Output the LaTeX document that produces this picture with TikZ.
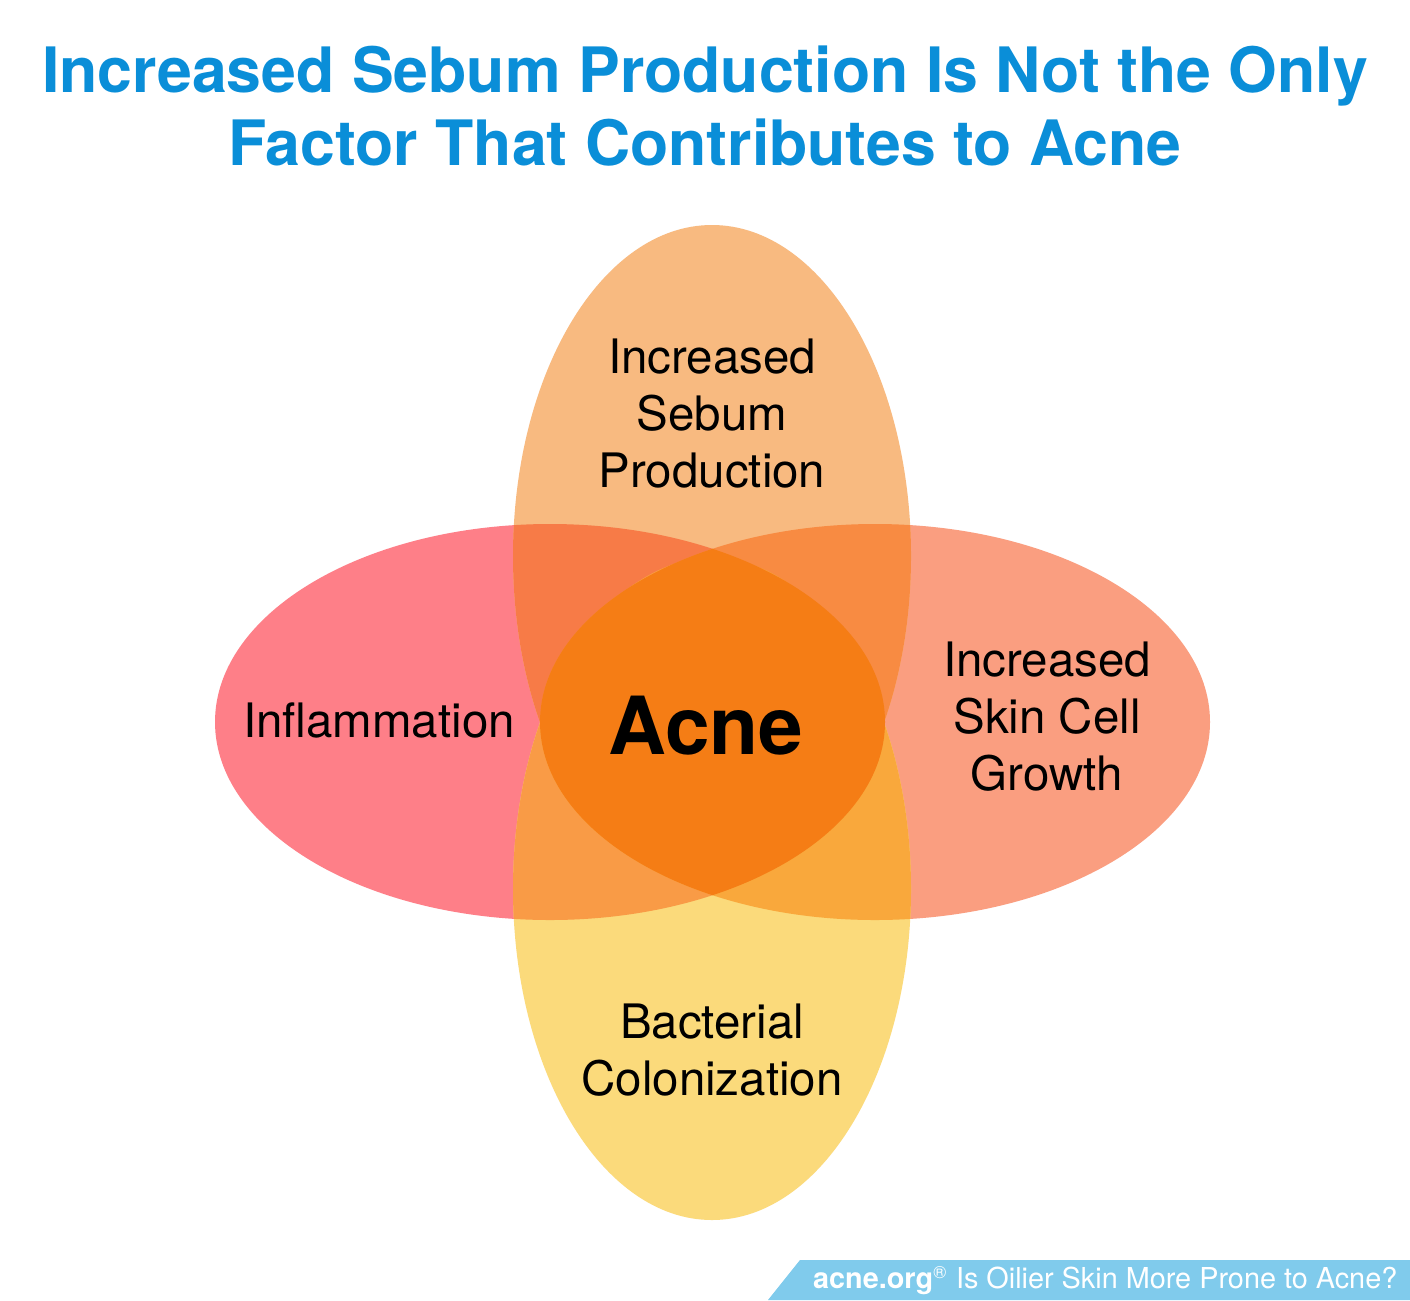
\documentclass[tikz,border=0pt]{standalone}
\usepackage{fontspec}
\setmainfont{TeX Gyre Heros}
\begin{document}
\begin{tikzpicture}[x=0.01cm,y=-0.01cm,
  lab/.style={font=\fontsize{13.5}{16.2}\selectfont,align=center,text=black}]
\definecolor{tblue}{HTML}{0A8ED8}
\definecolor{ctop}{HTML}{F8BA80}
\definecolor{cleft}{HTML}{FE7F88}
\definecolor{cright}{HTML}{FA9E80}
\definecolor{cbot}{HTML}{FBDA7B}
\definecolor{ctl}{HTML}{F77B47}
\definecolor{ctr}{HTML}{F88B42}
\definecolor{cbl}{HTML}{F99B46}
\definecolor{cbr}{HTML}{F9A83C}
\definecolor{ccen}{HTML}{F57D15}
\definecolor{foot}{HTML}{80CBEC}
\def\eL{(550,722) ellipse [x radius=335,y radius=198]}
\def\eR{(875,722) ellipse [x radius=335,y radius=198]}
\def\eT{(712,556) ellipse [x radius=199,y radius=331]}
\def\eB{(712,889) ellipse [x radius=199,y radius=331]}
\useasboundingbox (0,0) rectangle (1410,1300);
\fill[white] (0,0) rectangle (1410,1300);
\fill[cleft] \eL;
\fill[cright] \eR;
\fill[ctop] \eT;
\fill[cbot] \eB;
\begin{scope}\clip \eT; \fill[ctl] \eL; \end{scope}
\begin{scope}\clip \eT; \fill[ctr] \eR; \end{scope}
\begin{scope}\clip \eB; \fill[cbl] \eL; \end{scope}
\begin{scope}\clip \eB; \fill[cbr] \eR; \end{scope}
\begin{scope}\clip \eL; \fill[ccen] \eR; \end{scope}
\node[font=\bfseries\fontsize{17.8}{20.8}\selectfont,text=tblue,align=center] (title) at (705,106) {Increased Sebum Production Is Not the Only\\Factor That Contributes to Acne};
\node[lab] (top) at (712,414) {Increased\\Sebum\\Production};
\node[lab] (left) at (379,720) {Inflammation};
\node[lab] (right) at (1047,717) {Increased\\Skin Cell\\Growth};
\node[lab] (bot) at (712,1050) {Bacterial\\Colonization};
\node[font=\bfseries\fontsize{22.8}{26}\selectfont] (acne) at (706,726) {Acne};
\fill[foot] (800,1260) -- (1410,1260) -- (1410,1300) -- (768,1300) -- cycle;
\node[anchor=east,text=white,font=\fontsize{8.2}{10}\selectfont,inner sep=0] (ft) at (1398,1281) {{\bfseries acne.org}\textsuperscript{\tiny\textregistered} Is Oilier Skin More Prone to Acne?};
\end{tikzpicture}
\end{document}
